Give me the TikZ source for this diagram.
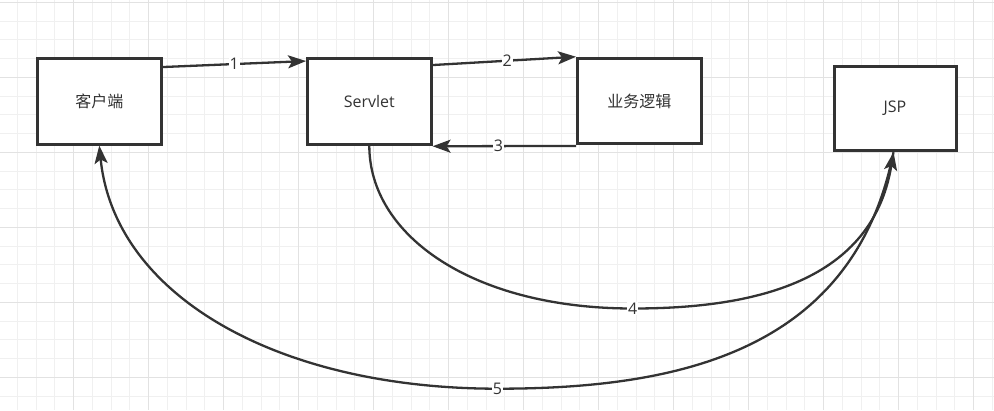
\documentclass[tikz,border=0pt]{standalone}
\usepackage{fontspec}
\setmainfont{Open Sans}
\newfontfamily\cjk{Noto Sans CJK SC}
\usetikzlibrary{arrows.meta}
\definecolor{ink}{HTML}{333333}
\definecolor{gridminor}{HTML}{F0F0F0}
\definecolor{gridmajor}{HTML}{E2E2E2}
\tikzset{
  box/.style={draw=ink, line width=3pt, fill=white, inner sep=0pt,
    minimum width=123.5pt, minimum height=85.5pt, text=ink,
    font=\fontsize{16pt}{19pt}\selectfont},
  link/.style={draw=ink, line width=2.3pt,
    -{Stealth[length=18pt,width=13pt,inset=4pt]}},
  tag/.style={fill=white, inner sep=1pt, text=ink,
    font=\fontsize{16pt}{19pt}\selectfont},
}
\begin{document}
\begin{tikzpicture}[x=1pt, y=-1pt]
  % canvas and background grid
  \useasboundingbox (0,0) rectangle (994,410);
  \fill[white] (0,0) rectangle (994,410);
  \foreach \i in {0,...,52}
    \draw[gridminor, line width=1pt] ({17.45+18.75*\i},0) -- ++(0,410);
  \foreach \i in {0,...,21}
    \draw[gridminor, line width=1pt] (0,{2.3+18.75*\i}) -- ++(994,0);
  \foreach \i in {0,...,12}
    \draw[gridmajor, line width=1pt] ({73.7+75*\i},0) -- ++(0,410);
  \foreach \i in {0,...,5}
    \draw[gridmajor, line width=1pt] (0,{2.3+75*\i}) -- ++(994,0);

  % components
  \node[box] (client)  at (99.3,101.3)  {\cjk 客户端};
  \node[box] (servlet) at (369.3,101.3) {Servlet};
  \node[box] (logic)   at (639.3,101)   {\cjk 业务逻辑};
  \node[box, minimum width=122pt, minimum height=84pt] (jsp) at (895,108.7) {JSP};

  % label points on the curved connectors
  \coordinate (c4) at (632.7,308.5);
  \coordinate (c5) at (497.5,388.7);

  % request flow
  \draw[link] ([yshift=-10pt]client.north east) -- ([yshift=-4pt]servlet.north west)
    node[tag, midway] {1};
  \draw[link] ([yshift=-8pt]servlet.north east) -- (logic.north west)
    node[tag, pos=0.52] {2};
  \draw[link] ([yshift=-0.7pt]logic.south west) -- ([yshift=-0.7pt]servlet.south east)
    node[tag, pos=0.54] {3};
  \draw[link] (servlet.south) .. controls +(0,90) and +(-160,0) .. (c4)
    .. controls +(110,0) and +(-22,135) .. ([xshift=-1.5pt]jsp.south);
  \draw[link] ([xshift=-1.5pt]jsp.south) .. controls +(-40,200) and +(180,0) .. (c5)
    .. controls +(-220,0) and +(15,150) .. (client.south);
  \node[tag] (l4) at (c4) {4};
  \node[tag] (l5) at (c5) {5};
\end{tikzpicture}
\end{document}
